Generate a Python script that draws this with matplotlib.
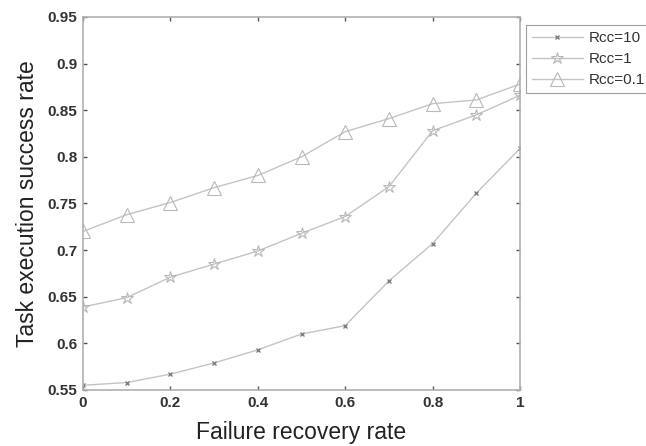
import matplotlib
matplotlib.use('Agg')
import matplotlib.pyplot as plt

# data
x = [0, 0.1, 0.2, 0.3, 0.4, 0.5, 0.6, 0.7, 0.8, 0.9, 1.0]
rcc10 = [0.555, 0.558, 0.567, 0.579, 0.593, 0.610, 0.619, 0.667, 0.707, 0.761, 0.809]
rcc1 = [0.639, 0.649, 0.671, 0.685, 0.699, 0.718, 0.736, 0.768, 0.828, 0.845, 0.866]
rcc01 = [0.720, 0.738, 0.751, 0.767, 0.780, 0.800, 0.827, 0.841, 0.857, 0.861, 0.878]
labels = ['Rcc=10', 'Rcc=1', 'Rcc=0.1']

line_col = '#c4c4c4'
axis_col = '#b0b0b0'
plt.rcParams['font.family'] = ['Liberation Sans', 'DejaVu Sans']

fig = plt.figure(figsize=(6.46, 4.46), dpi=100)
ax = fig.add_axes([0.1285, 0.1256, 0.805 - 0.1285, 0.962 - 0.1256])

ax.plot(x, rcc10, color=line_col, lw=1, marker='x', ms=3.5, mec='#808080', label=labels[0])
ax.plot(x, rcc1, color=line_col, lw=1, marker='*', ms=9, mfc='none', mec='#b8b8b8', mew=0.8, label=labels[1])
ax.plot(x, rcc01, color=line_col, lw=1, marker='^', ms=10, mfc='none', mec='#b8b8b8', mew=0.8, label=labels[2])

ax.set_xlim(0, 1)
ax.set_ylim(0.55, 0.95)
ax.set_xticks([0, 0.2, 0.4, 0.6, 0.8, 1])
ax.set_xticklabels(['0', '0.2', '0.4', '0.6', '0.8', '1'])
ax.set_yticks([0.55, 0.6, 0.65, 0.7, 0.75, 0.8, 0.85, 0.9, 0.95])
ax.set_yticklabels(['0.55', '0.6', '0.65', '0.7', '0.75', '0.8', '0.85', '0.9', '0.95'])

for s in ax.spines.values():
    s.set_color(axis_col)
    s.set_linewidth(1.2)
ax.tick_params(direction='in', length=3, width=1, color='#555555', top=True, right=True,
               labelsize=11, labelcolor='#333333', pad=4)
for t in ax.get_xticklabels() + ax.get_yticklabels():
    t.set_fontweight('bold')

ax.set_xlabel('Failure recovery rate', fontsize=16.5, color='#222222', labelpad=8.5)
ax.set_ylabel('Task execution success rate', fontsize=16.5, color='#222222', labelpad=6)

leg = fig.legend(loc='upper left', bbox_to_anchor=(526 / 646, 1 - 25 / 446),
                 bbox_transform=fig.transFigure, fontsize=11, frameon=True,
                 fancybox=False, handlelength=3.3, handletextpad=0.4,
                 borderpad=0.4, borderaxespad=0, labelspacing=0.45)
leg.get_frame().set_edgecolor('#888888')
leg.get_frame().set_linewidth(0.8)
for t in leg.get_texts():
    t.set_color('#333333')

fig.savefig('out.png', dpi=100)
